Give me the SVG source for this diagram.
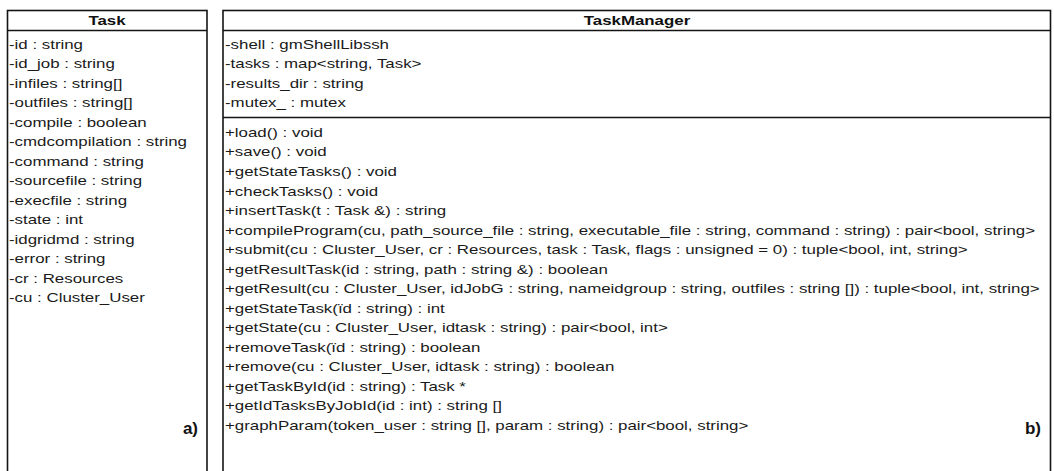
<svg xmlns="http://www.w3.org/2000/svg" width="1054" height="471" viewBox="0 0 1054 471">
  <style>
    .box { fill: #ffffff; stroke: #141414; stroke-width: 1.6; }
    .sep { stroke: #141414; stroke-width: 1.6; }
    .t { font-family: "Liberation Sans", Arial, Helvetica, sans-serif; font-size: 13.5px; fill: #1a1a1a; }
    .h { font-family: "Liberation Sans", Arial, Helvetica, sans-serif; font-size: 13.5px; font-weight: bold; fill: #111111; text-anchor: middle; }
    .lbl { font-family: "Liberation Sans", Arial, Helvetica, sans-serif; font-size: 17px; font-weight: bold; fill: #111111; text-anchor: end; }
  </style>
  <rect x="0" y="0" width="1054" height="471" fill="#ffffff"/>

  <!-- Task class -->
  <g id="task">
    <rect class="box" x="7.5" y="10.5" width="199.5" height="480"/>
    <line class="sep" x1="7.5" y1="30.5" x2="207" y2="30.5"/>
    <g transform="scale(1.25,1)">
      <text class="h" x="85.6" y="25">Task</text>
      <text class="t" x="7.2" y="49">-id : string</text>
      <text class="t" x="7.2" y="68.5">-id_job : string</text>
      <text class="t" x="7.2" y="88">-infiles : string[]</text>
      <text class="t" x="7.2" y="107.5">-outfiles : string[]</text>
      <text class="t" x="7.2" y="127">-compile : boolean</text>
      <text class="t" x="7.2" y="146.5">-cmdcompilation : string</text>
      <text class="t" x="7.2" y="166">-command : string</text>
      <text class="t" x="7.2" y="185.5">-sourcefile : string</text>
      <text class="t" x="7.2" y="205">-execfile : string</text>
      <text class="t" x="7.2" y="224.5">-state : int</text>
      <text class="t" x="7.2" y="244">-idgridmd : string</text>
      <text class="t" x="7.2" y="263.5">-error : string</text>
      <text class="t" x="7.2" y="283">-cr : Resources</text>
      <text class="t" x="7.2" y="302.5">-cu : Cluster_User</text>
    </g>
    <text class="lbl" x="198" y="434">a)</text>
  </g>

  <!-- TaskManager class -->
  <g id="taskmanager">
    <rect class="box" x="223" y="10.5" width="827.5" height="480"/>
    <line class="sep" x1="223" y1="30.5" x2="1050.5" y2="30.5"/>
    <line class="sep" x1="223" y1="117.5" x2="1050.5" y2="117.5"/>
    <g transform="scale(1.25,1)">
      <text class="h" x="509.6" y="25">TaskManager</text>
      <text class="t" x="180" y="49">-shell : gmShellLibssh</text>
      <text class="t" x="180" y="68.5">-tasks : map&lt;string, Task&gt;</text>
      <text class="t" x="180" y="88">-results_dir : string</text>
      <text class="t" x="180" y="107.5">-mutex_ : mutex</text>
      <text class="t" x="180" y="137">+load() : void</text>
      <text class="t" x="180" y="156.5">+save() : void</text>
      <text class="t" x="180" y="176">+getStateTasks() : void</text>
      <text class="t" x="180" y="195.6">+checkTasks() : void</text>
      <text class="t" x="180" y="215.1">+insertTask(t : Task &amp;) : string</text>
      <text class="t" x="180" y="234.7">+compileProgram(cu, path_source_file : string, executable_file : string, command : string) : pair&lt;bool, string&gt;</text>
      <text class="t" x="180" y="254.2">+submit(cu : Cluster_User, cr : Resources, task : Task, flags : unsigned = 0) : tuple&lt;bool, int, string&gt;</text>
      <text class="t" x="180" y="273.7">+getResultTask(id : string, path : string &amp;) : boolean</text>
      <text class="t" x="180" y="293.3">+getResult(cu : Cluster_User, idJobG : string, nameidgroup : string, outfiles : string []) : tuple&lt;bool, int, string&gt;</text>
      <text class="t" x="180" y="312.8">+getStateTask(ïd : string) : int</text>
      <text class="t" x="180" y="332.3">+getState(cu : Cluster_User, idtask : string) : pair&lt;bool, int&gt;</text>
      <text class="t" x="180" y="351.9">+removeTask(ïd : string) : boolean</text>
      <text class="t" x="180" y="371.4">+remove(cu : Cluster_User, idtask : string) : boolean</text>
      <text class="t" x="180" y="390.9">+getTaskById(id : string) : Task *</text>
      <text class="t" x="180" y="410.5">+getIdTasksByJobId(id : int) : string []</text>
      <text class="t" x="180" y="430">+graphParam(token_user : string [], param : string) : pair&lt;bool, string&gt;</text>
    </g>
    <text class="lbl" x="1041" y="434">b)</text>
  </g>
</svg>
